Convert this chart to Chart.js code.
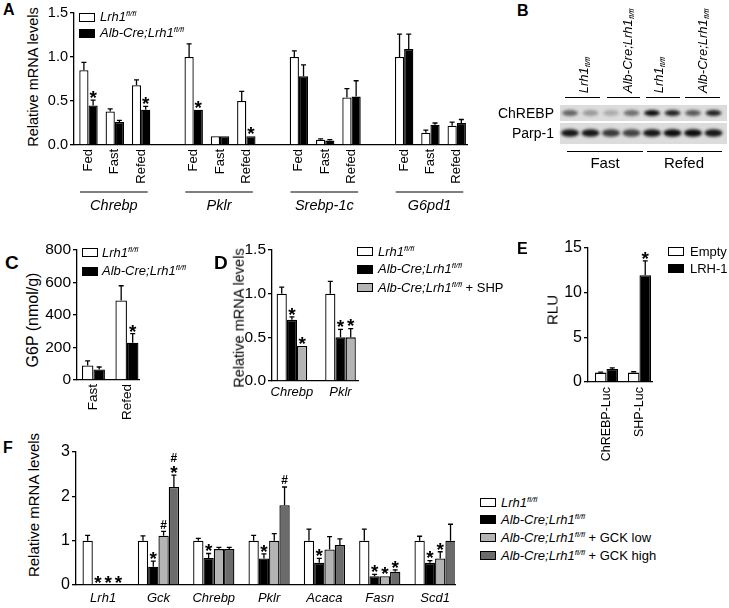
<!DOCTYPE html>
<html>
<head>
<meta charset="utf-8">
<script src="https://cdn.jsdelivr.net/npm/chart.js@4.4.0/dist/chart.umd.min.js"></script>
<style>
html, body { margin: 0; padding: 0; background: #fff; }
body { width: 729px; height: 608px; position: relative; overflow: hidden; font-family: "Liberation Sans", Arial, sans-serif; color: #000; }
.t { position: absolute; white-space: nowrap; }
.yt { position: absolute; white-space: nowrap; transform: translate(-50%, -50%) rotate(-90deg); line-height: 1; }
.sw { position: absolute; box-sizing: border-box; border: 1.3px solid #000; }
.sup { font-size: 8px; position: relative; top: -5px; }
.vt { position: absolute; writing-mode: vertical-rl; transform: rotate(180deg); white-space: nowrap; font-size: 13px; line-height: 13px; }
.vt .sup { top: 0; left: -4px; }
</style>
</head>
<body>
<canvas id="blot" width="214" height="80" style="position:absolute;left:515px;top:90px;"></canvas>
<script>
"use strict";

const FONT = '"Liberation Sans", Arial, sans-serif';
Chart.defaults.font.family = FONT;
Chart.defaults.color = '#000';

// Panel A: Relative mRNA levels, fed / fast / refed
const aConditions = ['Fed', 'Fast', 'Refed'];
const aGenes = ['Chrebp', 'Pklr', 'Srebp-1c', 'G6pd1'];
const aWT = [0.85, 0.38, 0.68, 1.00, 0.10, 0.50, 1.00, 0.06, 0.54, 1.00, 0.14, 0.22];
const aWTErr = [0.09, 0.03, 0.06, 0.15, 0.00, 0.11, 0.07, 0.01, 0.10, 0.26, 0.03, 0.04];
const aKO = [0.45, 0.26, 0.40, 0.40, 0.10, 0.10, 0.78, 0.05, 0.55, 1.09, 0.23, 0.25];
const aKOErr = [0.06, 0.02, 0.04, 0.00, 0.00, 0.00, 0.13, 0.01, 0.18, 0.17, 0.02, 0.04];
const aKOSig = ['*', '', '*', '*', '', '*', '', '', '', '', '', ''];
const aTicks = [0, 0.5, 1.0, 1.5];

// Panel B: western blot band intensities (0..1), 8 lanes
const chrebpBand = [0.55, 0.30, 0.22, 0.50, 0.95, 0.85, 0.60, 0.85];
const parpBand = [0.90, 0.90, 0.75, 0.70, 0.90, 0.95, 0.95, 0.90];

// Panel C: G6P
const cConditions = ['Fast', 'Refed'];
const cWT = [90, 490];
const cWTErr = [28, 90];
const cKO = [65, 230];
const cKOErr = [15, 55];
const cKOSig = ['', '*'];
const cTicks = [0, 200, 400, 600, 800];

// Panel D: + SHP
const dGenes = ['Chrebp', 'Pklr'];
const dWT = [1.0, 1.0];
const dWTErr = [0.075, 0.14];
const dKO = [0.70, 0.50];
const dKOErr = [0.035, 0.09];
const dKOSig = ['*', '*'];
const dSHP = [0.40, 0.50];
const dSHPErr = [0, 0.10];
const dSHPSig = ['*', '*'];
const dTicks = [0, 0.5, 1.0, 1.5];

// Panel E: luciferase
const eReporters = ['ChREBP-Luc', 'SHP-Luc'];
const eEmpty = [1.05, 1.05];
const eEmptyErr = [0.05, 0.1];
const eLRH = [1.45, 11.95];
const eLRHErr = [0.12, 1.6];
const eLRHSig = ['', '*'];
const eTicks = [0, 5, 10, 15];

// Panel F: GCK rescue
const fGenes = ['Lrh1', 'Gck', 'Chrebp', 'Pklr', 'Acaca', 'Fasn', 'Scd1'];
const fWT = [1.0, 1.0, 1.0, 1.0, 1.0, 1.0, 1.0];
const fWTErr = [0.12, 0.11, 0.05, 0.12, 0.26, 0.26, 0.10];
const fKO = [0, 0.41, 0.61, 0.60, 0.50, 0.20, 0.50];
const fKOErr = [0, 0.13, 0.10, 0.10, 0.10, 0.04, 0.05];
const fKOSig = ['*', '*', '*', '*', '*', '*', '*'];
const fLow = [0, 1.11, 0.81, 1.00, 0.80, 0.20, 0.60];
const fLowErr = [0, 0.10, 0.04, 0.16, 0.29, 0, 0.15];
const fLowSig = ['*', '#', '', '', '', '*', '*'];
const fHigh = [0, 2.21, 0.81, 1.80, 0.90, 0.30, 1.00];
const fHighErr = [0, 0.27, 0.04, 0.41, 0.14, 0.04, 0.37];
const fHighSig = ['*', '*#', '', '#', '', '*', ''];
const fTicks = [0, 1, 2, 3];

const WHITE = '#ffffff', BLACK = '#000000', LGRAY = '#b4b4b4', DGRAY = '#6b6b6b';

// error bars (upper only) plus significance marks above them
function drawMark(ctx, m, x, cy) {
    const fs = m === '*' ? 19 : 12;
    ctx.font = 'bold ' + fs + 'px ' + FONT;
    ctx.fillStyle = '#000';
    ctx.textAlign = 'center';
    ctx.textBaseline = 'alphabetic';
    ctx.fillText(m, x, cy + (m === '*' ? 0.57 : 0.36) * fs);
}

const errPlugin = {
    id: 'errbars',
    afterDatasetsDraw(chart) {
        const ctx = chart.ctx, ys = chart.scales.y;
        ctx.save();
        chart.data.datasets.forEach((ds, di) => {
            chart.getDatasetMeta(di).data.forEach((bar, i) => {
                const v = ds.data[i].y;
                const e = ds.errs ? ds.errs[i] : 0;
                const top = ys.getPixelForValue(v + e);
                if (e > 0) {
                    ctx.strokeStyle = '#000';
                    ctx.lineWidth = 1.3;
                    ctx.beginPath();
                    ctx.moveTo(bar.x, bar.y);
                    ctx.lineTo(bar.x, top);
                    ctx.moveTo(bar.x - 2.5, top);
                    ctx.lineTo(bar.x + 2.5, top);
                    ctx.stroke();
                }
                const marks = ds.sig ? ds.sig[i] : '';
                let cy = top - 7;
                for (const m of marks) {
                    drawMark(ctx, m, bar.x, cy);
                    cy -= 10;
                }
            });
        });
        ctx.restore();
    }
};

function series(vals, pos, fill, errs, sig, pct) {
    return {
        data: vals.map((v, i) => ({ x: pos[i], y: v })),
        backgroundColor: fill,
        borderColor: '#000',
        borderWidth: 1.3,
        categoryPercentage: pct,
        barPercentage: 1,
        errs: errs,
        sig: sig
    };
}

function chartConfig(c, padT, padR) {
    return {
        type: 'bar',
        data: { datasets: c.datasets },
        options: {
            responsive: false,
            maintainAspectRatio: false,
            animation: false,
            layout: { padding: { top: padT, right: padR, left: 0, bottom: 0 } },
            plugins: { legend: { display: false }, tooltip: { enabled: false } },
            scales: {
                x: {
                    type: 'linear',
                    offset: false,
                    bounds: 'data',
                    min: c.xmin,
                    max: c.xmax,
                    afterBuildTicks: s => { s.ticks = c.xPos.map(v => ({ value: v })); },
                    afterFit: s => { s.height = c.Hx; s.paddingLeft = 0; s.paddingRight = 0; },
                    grid: { display: true, offset: false, drawOnChartArea: false, drawTicks: false },
                    border: { display: true, color: '#000', width: 1.3 },
                    ticks: {
                        autoSkip: false,
                        maxRotation: c.rot,
                        minRotation: c.rot,
                        padding: c.xPad,
                        color: '#000',
                        font: { size: c.xSize, style: c.xStyle || 'normal' },
                        callback: v => c.xLabels[c.xPos.indexOf(v)]
                    }
                },
                y: {
                    min: 0,
                    max: c.yTicks[c.yTicks.length - 1],
                    afterBuildTicks: s => { s.ticks = c.yTicks.map(v => ({ value: v })); },
                    afterFit: s => { s.width = c.Wy; s.paddingTop = 0; s.paddingBottom = 0; },
                    grid: { display: true, drawOnChartArea: false, drawTicks: true, tickLength: 4, color: '#000', lineWidth: 1.3 },
                    border: { display: true, color: '#000', width: 1.3 },
                    ticks: { padding: 2, color: '#000', font: { size: c.ySize }, callback: v => c.yFmt(v) }
                }
            }
        },
        plugins: [errPlugin].concat(c.plugins || [])
    };
}

// builds the chart, then nudges the canvas until the plot area sits where the reference has it
function makeBars(c) {
    const padT = 12, padR = 24;
    let left = c.L - c.Wy, top = c.T - padT;
    let w = Math.round(c.Wy + (c.R - c.L) + padR);
    let h = Math.round(padT + (c.B - c.T) + c.Hx);
    const cv = document.createElement('canvas');
    document.body.appendChild(cv);
    let chart = null;
    for (let k = 0; k < 4; k++) {
        if (chart) chart.destroy();
        cv.width = w;
        cv.height = h;
        cv.style.cssText = 'position:absolute;left:' + left + 'px;top:' + top + 'px;width:' + w + 'px;height:' + h + 'px;';
        chart = new Chart(cv, chartConfig(c, padT, padR));
        const ca = chart.chartArea;
        const dx = c.L - (left + ca.left);
        const dy = c.T - (top + ca.top);
        const dw = (c.R - c.L) - (ca.right - ca.left);
        const dh = (c.B - c.T) - (ca.bottom - ca.top);
        if (Math.abs(dx) < 0.5 && Math.abs(dy) < 0.5 && Math.abs(dw) < 0.5 && Math.abs(dh) < 0.5) break;
        left += dx;
        top += dy;
        w = Math.round(w + dw);
        h = Math.round(h + dh);
    }
    return chart;
}

const fix1 = v => v.toFixed(1);
const plain = v => String(v);

// ---- A ----
const aPos = [];
const aLabels = [];
aGenes.forEach((g, gi) => aConditions.forEach((cnd, ci) => { aPos.push(gi * 4 + ci); aLabels.push(cnd); }));

const aGroupPlugin = {
    id: 'agroups',
    afterDraw(chart) {
        const xs = chart.scales.x, ctx = chart.ctx;
        const cat = xs.getPixelForValue(1) - xs.getPixelForValue(0);
        const lineY = chart.chartArea.bottom + 47;
        ctx.save();
        ctx.strokeStyle = '#000';
        ctx.lineWidth = 1.2;
        ctx.fillStyle = '#000';
        ctx.font = 'italic 14.5px ' + FONT;
        ctx.textAlign = 'center';
        ctx.textBaseline = 'alphabetic';
        aGenes.forEach((g, gi) => {
            const x0 = xs.getPixelForValue(gi * 4) - 0.32 * cat;
            const x1 = xs.getPixelForValue(gi * 4 + 2) + 0.25 * cat;
            ctx.beginPath();
            ctx.moveTo(x0, lineY);
            ctx.lineTo(x1, lineY);
            ctx.stroke();
            ctx.fillText(g, (x0 + x1) / 2, lineY + 18);
        });
        ctx.restore();
    }
};

makeBars({
    L: 74, R: 467, T: 13, B: 145, Wy: 30, Hx: 72,
    xmin: -0.551, xmax: 14.39, xPos: aPos, xLabels: aLabels,
    rot: 90, xSize: 13, xPad: 4, ySize: 14.5, yTicks: aTicks, yFmt: fix1,
    datasets: [
        series(aWT, aPos, WHITE, aWTErr, null, 0.70),
        series(aKO, aPos, BLACK, aKOErr, aKOSig, 0.70)
    ],
    plugins: [aGroupPlugin]
});

// ---- C ----
const cPos = [0, 1];
makeBars({
    L: 77, R: 139, T: 250, B: 379.5, Wy: 34, Hx: 45,
    xmin: -0.49, xmax: 1.36, xPos: cPos, xLabels: cConditions,
    rot: 90, xSize: 13.5, xPad: 4, ySize: 15.5, yTicks: cTicks, yFmt: plain,
    datasets: [
        series(cWT, cPos, WHITE, cWTErr, null, 0.687),
        series(cKO, cPos, BLACK, cKOErr, cKOSig, 0.687)
    ]
});

// ---- D ----
const dPos = [0, 1];
makeBars({
    L: 272, R: 358, T: 250, B: 380.5, Wy: 30, Hx: 25,
    xmin: -0.41, xmax: 1.36, xPos: dPos, xLabels: dGenes,
    rot: 0, xSize: 13, xStyle: 'italic', xPad: 4, ySize: 15.5, yTicks: dTicks, yFmt: fix1,
    datasets: [
        series(dWT, dPos, WHITE, dWTErr, null, 0.63),
        series(dKO, dPos, BLACK, dKOErr, dKOSig, 0.63),
        series(dSHP, dPos, LGRAY, dSHPErr, dSHPSig, 0.63)
    ]
});

// ---- E ----
const ePos = [0, 1];
makeBars({
    L: 588, R: 652, T: 248, B: 381.7, Wy: 30, Hx: 90,
    xmin: -0.56, xmax: 1.38, xPos: ePos, xLabels: eReporters,
    rot: 90, xSize: 12.5, xPad: 5, ySize: 16, yTicks: eTicks, yFmt: plain,
    datasets: [
        series(eEmpty, ePos, WHITE, eEmptyErr, null, 0.70),
        series(eLRH, ePos, BLACK, eLRHErr, eLRHSig, 0.70)
    ]
});

// ---- F ----
const fPos = fGenes.map((g, i) => i);
makeBars({
    L: 76, R: 455, T: 451.7, B: 585, Wy: 30, Hx: 23,
    xmin: -0.49, xmax: 6.36, xPos: fPos, xLabels: fGenes,
    rot: 0, xSize: 13, xStyle: 'italic', xPad: 6, ySize: 16, yTicks: fTicks, yFmt: plain,
    datasets: [
        series(fWT, fPos, WHITE, fWTErr, null, 0.745),
        series(fKO, fPos, BLACK, fKOErr, fKOSig, 0.745),
        series(fLow, fPos, LGRAY, fLowErr, fLowSig, 0.745),
        series(fHigh, fPos, DGRAY, fHighErr, fHighSig, 0.745)
    ]
});

// ---- HTML text: panel letters, axis titles, legends ----
function txt(html, x, capTop, fs, extra) {
    const d = document.createElement('div');
    d.className = 't';
    d.innerHTML = html;
    d.style.cssText += 'left:' + x + 'px;top:' + (capTop - 0.13 * fs) + 'px;font-size:' + fs + 'px;line-height:' + fs + 'px;' + (extra || '');
    document.body.appendChild(d);
    return d;
}
function letter(ch, x, capTop, fs) {
    txt(ch, x, capTop, fs, 'font-weight:bold;');
}
function yTitle(s, cx, cy, fs) {
    const d = document.createElement('div');
    d.className = 'yt';
    d.textContent = s;
    d.style.cssText += 'left:' + cx + 'px;top:' + cy + 'px;font-size:' + fs + 'px;';
    document.body.appendChild(d);
}
function legend(x, rows, entries, gap) {
    entries.forEach((en, i) => {
        const cy = rows[i];
        const s = document.createElement('div');
        s.className = 'sw';
        s.style.cssText += 'left:' + x + 'px;top:' + (cy - 4.5) + 'px;width:16px;height:9px;background:' + en.fill + ';';
        document.body.appendChild(s);
        const d = document.createElement('div');
        d.className = 't';
        d.innerHTML = en.html;
        d.style.cssText += 'left:' + (x + gap) + 'px;top:' + (cy - 8) + 'px;font-size:13px;line-height:16px;';
        document.body.appendChild(d);
    });
}

const WT_HTML = '<i>Lrh1</i><i class="sup">fl/fl</i>';
const KO_HTML = '<i>Alb-Cre;Lrh1</i><i class="sup">fl/fl</i>';

letter('A', 3, 4, 16);
letter('B', 517, 5, 16);
letter('C', 5, 255, 19);
letter('D', 214, 255, 19);
letter('E', 517, 243, 16);
letter('F', 3, 442, 16);

yTitle('Relative mRNA levels', 33, 77, 14.5);
yTitle('G6P (nmol/g)', 33, 320, 16);
yTitle('Relative mRNA levels', 239, 318, 14.5);
yTitle('RLU', 552, 310, 15);
yTitle('Relative mRNA levels', 33, 505, 15);

legend(79, [17.2, 33.3], [{ fill: WHITE, html: WT_HTML }, { fill: BLACK, html: KO_HTML }], 21);
legend(82, [252.5, 271], [{ fill: WHITE, html: WT_HTML }, { fill: BLACK, html: KO_HTML }], 20);
legend(357, [251.5, 269, 287.5], [
    { fill: WHITE, html: WT_HTML },
    { fill: BLACK, html: KO_HTML },
    { fill: LGRAY, html: KO_HTML + ' + SHP' }
], 21);
legend(668, [251.5, 268.5], [{ fill: WHITE, html: 'Empty' }, { fill: BLACK, html: 'LRH-1' }], 22);
legend(480, [502.5, 519.5, 537.5, 555.5], [
    { fill: WHITE, html: WT_HTML },
    { fill: BLACK, html: KO_HTML },
    { fill: LGRAY, html: KO_HTML + ' + GCK low' },
    { fill: DGRAY, html: KO_HTML + ' + GCK high' }
], 21);

// ---- B: blot ----
function vlabel(html, cx, bottom) {
    const d = document.createElement('div');
    d.className = 'vt';
    d.innerHTML = html;
    d.style.left = (cx - 6.5) + 'px';
    d.style.bottom = (608 - bottom) + 'px';
    document.body.appendChild(d);
}
vlabel(WT_HTML, 583, 93);
vlabel(KO_HTML, 627, 93);
vlabel(WT_HTML, 658, 93);
vlabel(KO_HTML, 702, 93);

txt('ChREBP', 0, 108, 14, 'width:554px;text-align:right;left:0;');
txt('Parp-1', 0, 128, 14, 'width:554px;text-align:right;left:0;');
txt('Fast', 555, 157, 15, 'width:100px;text-align:center;');
txt('Refed', 634, 157, 15, 'width:100px;text-align:center;');

(function drawBlot() {
    const ctx = document.getElementById('blot').getContext('2d');
    const ox = 515, oy = 90;
    ctx.strokeStyle = '#000';
    ctx.lineWidth = 1;
    [[565, 600], [607, 640], [646, 680], [685, 720]].forEach(s => {
        ctx.beginPath(); ctx.moveTo(s[0] - ox, 97.5 - oy); ctx.lineTo(s[1] - ox, 97.5 - oy); ctx.stroke();
    });
    [[567, 643], [647, 722]].forEach(s => {
        ctx.beginPath(); ctx.moveTo(s[0] - ox, 151.5 - oy); ctx.lineTo(s[1] - ox, 151.5 - oy); ctx.stroke();
    });
    ctx.fillStyle = '#dcdcdc';
    ctx.fillRect(560 - ox, 105 - oy, 167, 16);
    ctx.fillRect(560 - ox, 123 - oy, 167, 21);
    ctx.filter = 'blur(1.6px)';
    chrebpBand.forEach((a, i) => {
        const x = 570 + i * 20.5 - ox;
        ctx.fillStyle = 'rgba(0,0,0,' + a + ')';
        ctx.beginPath();
        ctx.ellipse(x, 113 - oy, 8, 3, 0, 0, Math.PI * 2);
        ctx.fill();
    });
    parpBand.forEach((a, i) => {
        const x = 570 + i * 20.5 - ox;
        ctx.fillStyle = 'rgba(0,0,0,' + a + ')';
        ctx.beginPath();
        ctx.ellipse(x, 133 - oy, 9, 3.8, 0, 0, Math.PI * 2);
        ctx.fill();
    });
    ctx.filter = 'none';
})();
</script>
</body>
</html>
